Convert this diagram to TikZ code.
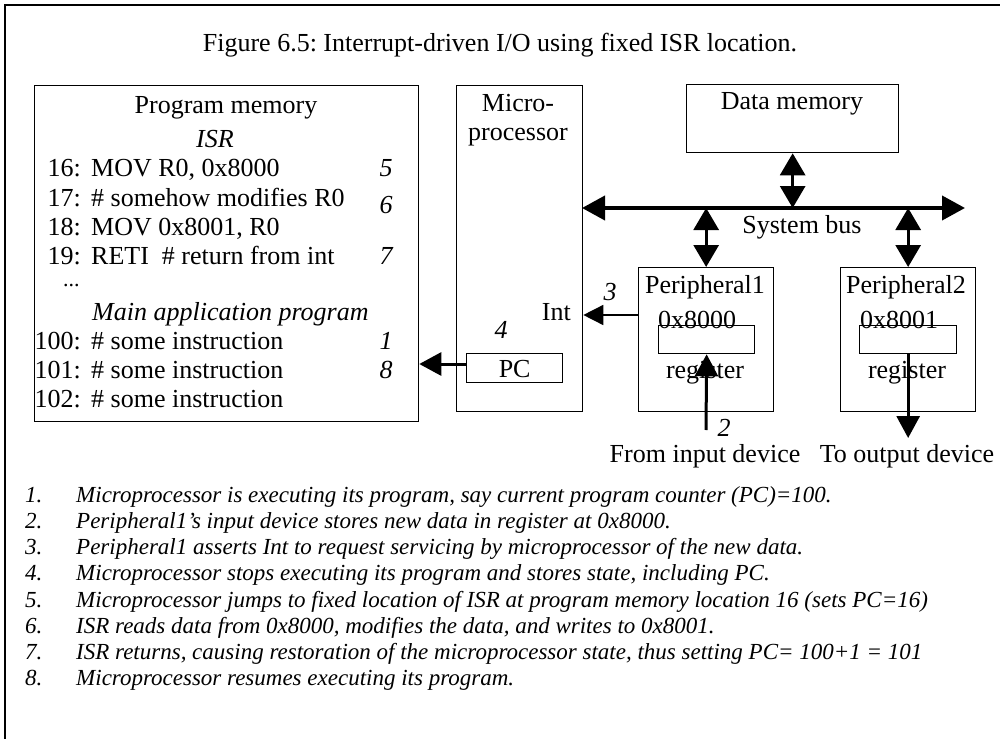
\documentclass[tikz,border=0pt]{standalone}
\usepackage{fontspec}
\setmainfont{Liberation Serif}
\usetikzlibrary{arrows.meta}
\frenchspacing
\begin{document}
\begin{tikzpicture}[x=1pt,y=-1pt,
  box/.style={draw, line width=1.3pt, inner sep=0pt, anchor=north west},
  txt/.style={inner sep=0pt, font=\fontsize{26}{29}\selectfont},
  itx/.style={inner sep=0pt, font=\fontsize{26}{29}\selectfont\itshape},
  lst/.style={inner sep=0pt, anchor=base west, font=\fontsize{23}{26}\selectfont\itshape},
  thinarr/.style={line width=1.5pt, -{Triangle[length=20pt,width=20pt]}},
  thickarr/.style={line width=3pt, -{Triangle[length=22pt,width=23pt]}},
  dblarr/.style={line width=3pt, {Triangle[length=22pt,width=25pt]}-{Triangle[length=22pt,width=25pt]}},
  busarr/.style={line width=4pt, {Triangle[length=23pt,width=24pt]}-{Triangle[length=23pt,width=24pt]}}
]
\useasboundingbox (0,0) rectangle (1000,738);
% outer frame
\draw[line width=2.5pt] (5,760) -- (5,5) -- (1020,5);

% title
\node[txt, anchor=base] (title) at (500,52) {Figure 6.5: Interrupt-driven I/O using fixed ISR location.};

% boxes
\node[box, minimum width=384pt, minimum height=336pt] (pm) at (34,85) {};
\node[box, minimum width=126pt, minimum height=326pt] (mp) at (456,85) {};
\node[box, minimum width=212pt, minimum height=68pt] (dm) at (686,84) {};
\node[box, minimum width=135pt, minimum height=144pt] (p1) at (638,267) {};
\node[box, minimum width=135pt, minimum height=144pt] (p2) at (840,267) {};
\node[box, minimum width=96pt, minimum height=29pt] (pc) at (466,353) {};
\node[box, minimum width=96pt, minimum height=28pt] (r1) at (658,325) {};
\node[box, minimum width=97pt, minimum height=28pt] (r2) at (859,325) {};

% program memory text
\node[txt, anchor=base] (tpm) at (226,114) {Program memory};
\node[itx, anchor=base] (tisr) at (215,148) {ISR};
\node[txt, anchor=base east] (n16) at (81,177) {16:};
\node[txt, anchor=base west] (l16) at (91,177) {MOV R0, 0x8000};
\node[txt, anchor=base east] (n17) at (81,206) {17:};
\node[txt, anchor=base west] (l17) at (91,206) {\# somehow modifies R0};
\node[txt, anchor=base east] (n18) at (81,235) {18:};
\node[txt, anchor=base west] (l18) at (91,235) {MOV 0x8001, R0};
\node[txt, anchor=base east] (n19) at (81,264) {19:};
\node[txt, anchor=base west] (l19) at (91,264) {RETI\ \ \# return from int};
\node[inner sep=0pt, anchor=base west, font=\fontsize{22}{24}\selectfont] (dots) at (63,286) {...};
\node[itx, anchor=base west] (tmain) at (92,320) {Main application program};
\node[txt, anchor=base east] (n100) at (81,349) {100:};
\node[txt, anchor=base west] (l100) at (91,349) {\# some instruction};
\node[txt, anchor=base east] (n101) at (81,378) {101:};
\node[txt, anchor=base west] (l101) at (91,378) {\# some instruction};
\node[txt, anchor=base east] (n102) at (81,407) {102:};
\node[txt, anchor=base west] (l102) at (91,407) {\# some instruction};
\node[itx, anchor=base] (s5) at (386,177) {5};
\node[itx, anchor=base] (s6) at (386,213) {6};
\node[itx, anchor=base] (s7) at (386,264) {7};
\node[itx, anchor=base] (s1) at (386,349) {1};
\node[itx, anchor=base] (s8) at (386,378) {8};

% microprocessor text
\node[txt, anchor=base] (tmicro) at (518,112) {Micro-};
\node[txt, anchor=base] (tproc) at (518,141) {processor};
\node[txt, anchor=base east] (tint) at (571,320) {Int};
\node[itx, anchor=base] (s3) at (610,300) {3};
\node[itx, anchor=base] (s4) at (501,338) {4};
\node[txt, anchor=base] (tpc) at (pc.center |- 0,377) {PC};

% data memory, bus
\node[txt, anchor=base] (tdm) at (792,110) {Data memory};
\node[txt, anchor=base] (tbus) at (802,233) {System bus};

% peripherals
\node[txt, anchor=base] (tp1) at (705,293) {Peripheral1};
\node[txt, anchor=base] (tp2) at (906,293) {Peripheral2};
\node[txt, anchor=base west] (a1) at (658,328) {0x8000};
\node[txt, anchor=base west] (a2) at (860,328) {0x8001};
\node[txt, anchor=base] (reg1) at (705,378) {register};
\node[txt, anchor=base] (reg2) at (907,378) {register};
\node[itx, anchor=base] (s2) at (724,436) {2};
\node[txt, anchor=base] (tin) at (705,462) {From input device};
\node[txt, anchor=base] (tout) at (907,462) {To output device};

% connectors
\coordinate (busL) at (582,208);
\coordinate (busR) at (965,208);
\draw[busarr] (busL) -- (busR);
\draw[dblarr] (dm.south) -- (dm.south |- busL);
\draw[dblarr] (p1.north |- busL) -- (p1.north);
\draw[dblarr] (p2.north |- busL) -- (p2.north);
\coordinate (intY) at (0,315);
\draw[thinarr] (p1.west |- intY) -- (mp.east |- intY);
\coordinate (pcY) at (0,364);
\draw[thickarr] (pc.west |- pcY) -- (pm.east |- pcY);
\coordinate (inS) at (706,430);
\draw[thickarr] (inS) -- (r1.south);
\coordinate (outE) at (0,438);
\draw[thickarr] (r2.south) -- (r2.south |- outE);

% list
\node[lst] (i1) at (25,502) {1.};
\node[lst] (j1) at (76,502) {Microprocessor is executing its program, say current program counter (PC)=100.};
\node[lst] (i2) at (25,528) {2.};
\node[lst] (j2) at (76,528) {Peripheral1’s input device stores new data in register at 0x8000.};
\node[lst] (i3) at (25,554) {3.};
\node[lst] (j3) at (76,554) {Peripheral1 asserts Int to request servicing by microprocessor of the new data.};
\node[lst] (i4) at (25,580) {4.};
\node[lst] (j4) at (76,580) {Microprocessor stops executing its program and stores state, including PC.};
\node[lst] (i5) at (25,607) {5.};
\node[lst] (j5) at (76,607) {Microprocessor jumps to fixed location of ISR at program memory location 16 (sets PC=16)};
\node[lst] (i6) at (25,633) {6.};
\node[lst] (j6) at (76,633) {ISR reads data from 0x8000, modifies the data, and writes to 0x8001.};
\node[lst] (i7) at (25,659) {7.};
\node[lst] (j7) at (76,659) {ISR returns, causing restoration of the microprocessor state, thus setting PC= 100+1 = 101};
\node[lst] (i8) at (25,685) {8.};
\node[lst] (j8) at (76,685) {Microprocessor resumes executing its program.};
\end{tikzpicture}
\end{document}
